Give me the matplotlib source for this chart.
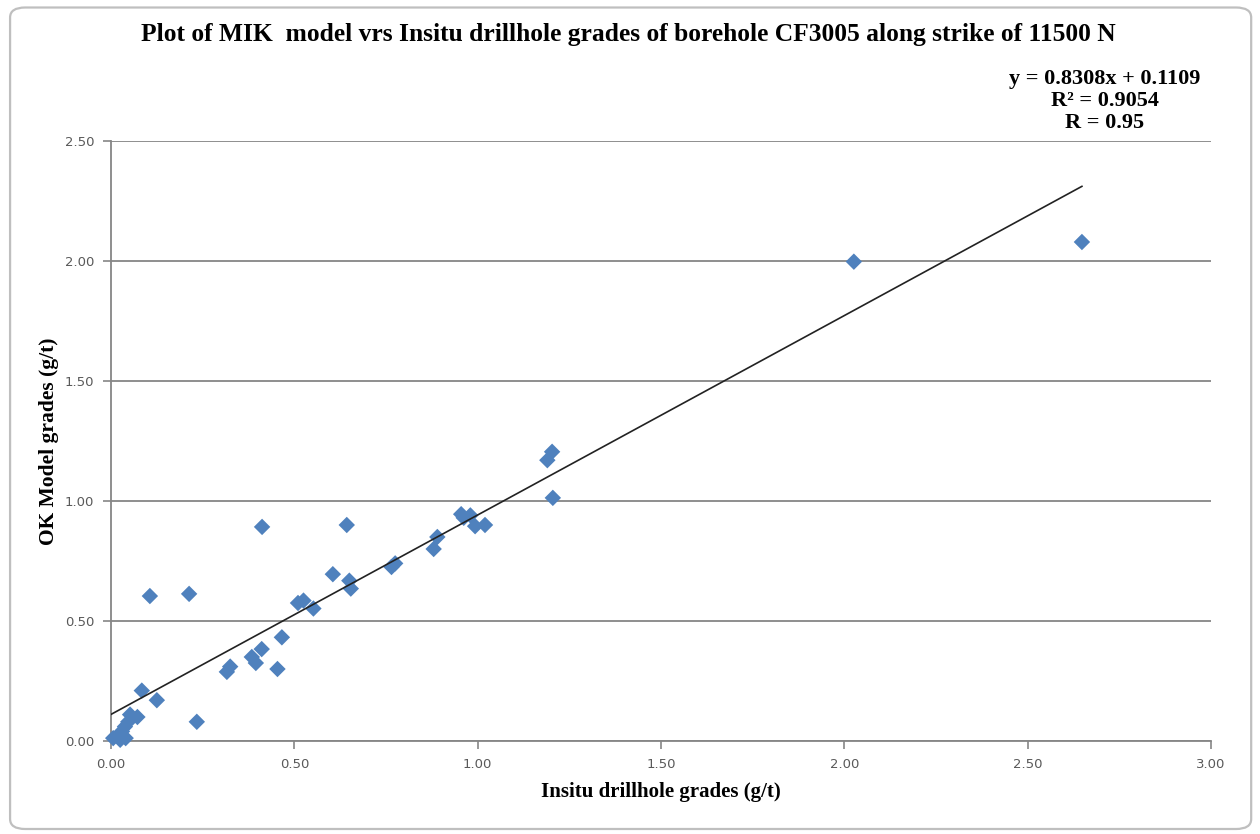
import matplotlib
matplotlib.use("Agg")
import matplotlib.pyplot as plt
from matplotlib.patches import FancyBboxPatch

# Insitu drillhole grades (g/t) vs model grades (g/t)
insitu = [0.006, 0.020, 0.025, 0.030, 0.038, 0.040, 0.047, 0.052, 0.072,
          0.084, 0.125, 0.234, 0.106, 0.213,
          0.316, 0.325, 0.384, 0.395, 0.411, 0.454, 0.466, 0.412,
          0.510, 0.525, 0.552, 0.605, 0.643, 0.650, 0.654,
          0.765, 0.775, 0.880, 0.890,
          0.955, 0.962, 0.980, 0.993, 1.020,
          1.190, 1.203, 1.205, 2.026, 2.648]
model = [0.012, 0.025, 0.005, 0.040, 0.060, 0.012, 0.080, 0.110, 0.100,
         0.210, 0.170, 0.080, 0.604, 0.613,
         0.288, 0.310, 0.350, 0.325, 0.383, 0.300, 0.432, 0.892,
         0.575, 0.585, 0.552, 0.695, 0.900, 0.668, 0.635,
         0.725, 0.740, 0.800, 0.850,
         0.945, 0.930, 0.940, 0.895, 0.900,
         1.170, 1.205, 1.013, 1.997, 2.079]

slope, intercept = 0.8308, 0.1109
r_squared = 0.9054
r_value = 0.95

title = "Plot of MIK  model vrs Insitu drillhole grades of borehole CF3005 along strike of 11500 N"
xlabel = "Insitu drillhole grades (g/t)"
ylabel = "OK Model grades (g/t)"
xticks = [0.0, 0.5, 1.0, 1.5, 2.0, 2.5, 3.0]
yticks = [0.0, 0.5, 1.0, 1.5, 2.0, 2.5]

serif = ["Liberation Serif", "DejaVu Serif"]
tick_color = "#595959"
axis_color = "#868686"

fig = plt.figure(figsize=(12.6, 8.34), dpi=100)
fig.patch.set_facecolor("white")

# rounded chart-area frame, kept behind the axes
frame = FancyBboxPatch((0.008, 0.006), 0.985, 0.985,
                       boxstyle="round,pad=0,rounding_size=0.012",
                       transform=fig.transFigure, facecolor="white",
                       edgecolor="#bfbfbf", linewidth=1.6, zorder=-10)
fig.patches.append(frame)

ax = fig.add_axes([0.0881, 0.1115, 0.8730, 0.7195], zorder=1)
ax.set_facecolor("none")

ax.set_xlim(0, 3.0)
ax.set_ylim(0, 2.5)
ax.set_xticks(xticks)
ax.set_yticks(yticks)
ax.set_xticklabels([f"{v:.2f}" for v in xticks])
ax.set_yticklabels([f"{v:.2f}" for v in yticks])

for s in ("top", "right"):
    ax.spines[s].set_visible(False)
for s in ("left", "bottom"):
    ax.spines[s].set_color(axis_color)
    ax.spines[s].set_linewidth(1.3)

ax.tick_params(axis="both", direction="out", length=6, width=1.2,
               color=axis_color, labelcolor=tick_color, labelsize=9.5)
ax.tick_params(axis="y", pad=6)
ax.tick_params(axis="x", pad=6)

ax.yaxis.grid(True, color=axis_color, linewidth=1.3)
ax.set_axisbelow(True)

ax.scatter(insitu, model, marker="D", s=70, color="#4F81BD",
           edgecolors="none", zorder=3, clip_on=False)

# linear trendline over the data range
x_end = max(insitu)
ax.plot([0, x_end], [intercept, slope * x_end + intercept],
        color="#222222", linewidth=1.2, zorder=4)

fig.text(0.4985, 0.959, title, ha="center", va="center",
         fontsize=18.4, fontweight="bold", family=serif)
ax.set_xlabel(xlabel, fontsize=15, fontweight="bold", family=serif, labelpad=8)
ax.set_ylabel(ylabel, fontsize=15.5, fontweight="bold", family=serif, labelpad=4)

eq = (f"y = {slope:.4f}x + {intercept:.4f}\n"
      f"R\u00b2 = {r_squared:.4f}\n"
      f"R = {r_value:.2f}")
fig.text(0.877, 0.879, eq, ha="center", va="center", fontsize=16,
         fontweight="bold", family=serif, linespacing=1.12)

fig.savefig("out.png", dpi=100)
